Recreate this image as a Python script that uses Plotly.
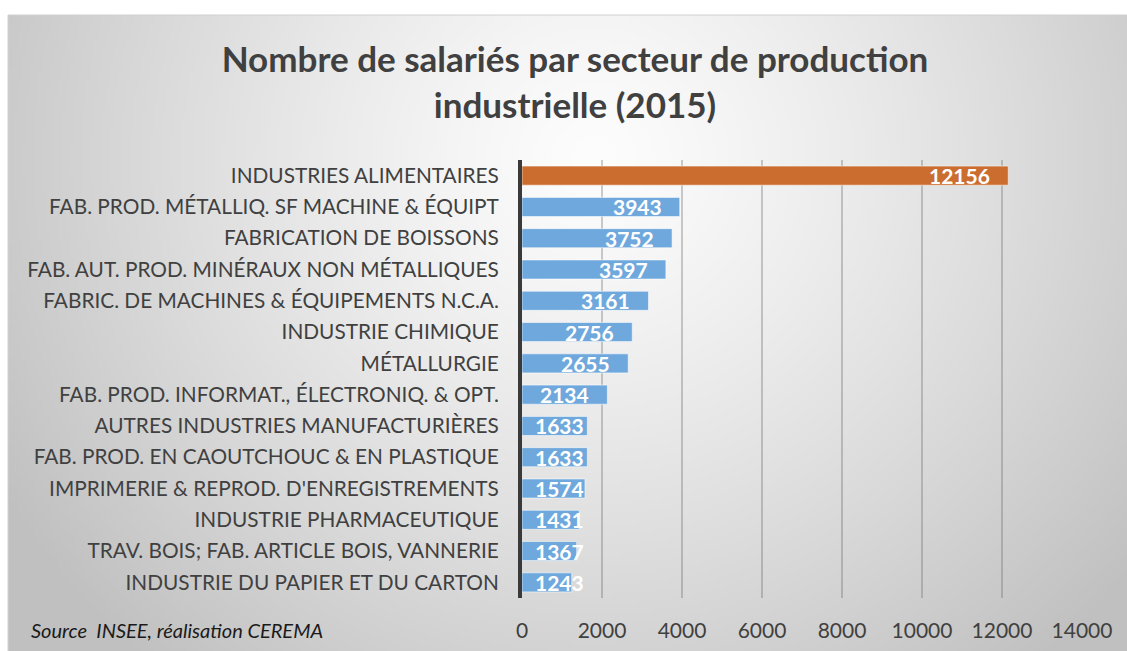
import base64
import struct
import zlib

import numpy as np
import plotly.graph_objects as go

# --- data -------------------------------------------------------------
secteurs = [
    "INDUSTRIES ALIMENTAIRES",
    "FAB. PROD. MÉTALLIQ. SF MACHINE & ÉQUIPT",
    "FABRICATION DE BOISSONS",
    "FAB. AUT. PROD. MINÉRAUX NON MÉTALLIQUES",
    "FABRIC. DE MACHINES & ÉQUIPEMENTS N.C.A.",
    "INDUSTRIE CHIMIQUE",
    "MÉTALLURGIE",
    "FAB. PROD. INFORMAT., ÉLECTRONIQ. & OPT.",
    "AUTRES INDUSTRIES MANUFACTURIÈRES",
    "FAB. PROD. EN CAOUTCHOUC & EN PLASTIQUE",
    "IMPRIMERIE & REPROD. D'ENREGISTREMENTS",
    "INDUSTRIE PHARMACEUTIQUE",
    "TRAV. BOIS; FAB. ARTICLE BOIS, VANNERIE",
    "INDUSTRIE DU PAPIER ET DU CARTON",
]
salaries = [12156, 3943, 3752, 3597, 3161, 2756, 2655, 2134, 1633, 1633, 1574, 1431, 1367, 1243]
x_ticks = [0, 2000, 4000, 6000, 8000, 10000, 12000, 14000]

titre = "Nombre de salariés par secteur de production<br>industrielle (2015)"
source = "Source  INSEE, réalisation CEREMA"

# --- styles -----------------------------------------------------------
FONT = "Lato"
TXT = "#404040"
BLUE = "#6fa8dc"
ORANGE = "#cc6d30"
colors = [ORANGE] + [BLUE] * (len(salaries) - 1)

W, H = 1127, 651
L, R, T, B = 522, 45, 160, 53
PW, PH = W - L - R, H - T - B


def radial_png(w, h):
    """Grey radial gradient, lightest near the title, as a PNG data URI."""
    yy, xx = np.mgrid[0:h, 0:w]
    cx, cy = 0.52 * w, 0.22 * h
    r = np.sqrt(((xx - cx) / (0.56 * w)) ** 2 + ((yy - cy) / (0.95 * h)) ** 2)
    r = np.clip(r, 0, 1.2)
    v = 253 - 54 * r ** 1.25
    v = np.clip(v, 192, 253).astype(np.uint8)
    raw = b"".join(b"\x00" + bytes(np.repeat(row, 3)) for row in v)

    def chunk(tag, data):
        c = struct.pack(">I", len(data)) + tag + data
        return c + struct.pack(">I", zlib.crc32(tag + data) & 0xFFFFFFFF)

    png = b"\x89PNG\r\n\x1a\n"
    png += chunk(b"IHDR", struct.pack(">IIBBBBB", w, h, 8, 2, 0, 0, 0))
    png += chunk(b"IDAT", zlib.compress(raw, 9))
    png += chunk(b"IEND", b"")
    return "data:image/png;base64," + base64.b64encode(png).decode()


# frame of the chart, in paper coordinates
fx0, fy0, fx1, fy1 = 8, 15, W + 4, H + 4
px = lambda p: (p - L) / PW
py = lambda p: 1 - (p - T) / PH

fig = go.Figure()
fig.add_trace(
    go.Bar(
        x=salaries,
        y=secteurs,
        orientation="h",
        marker=dict(color=colors, line=dict(color="rgba(255,255,255,0.55)", width=1)),
        hoverinfo="x+y",
    )
)

# value labels near the bar end (kept readable on the short bars)
label_x = np.maximum(np.array(salaries) - 400, 1610)
for lx, v, s in zip(label_x, salaries, secteurs):
    fig.add_annotation(
        x=lx, y=s, text=f"<b>{v}</b>", showarrow=False, xanchor="right",
        font=dict(family=FONT, size=21, color="white"),
    )

fig.add_annotation(
    x=px(29), y=py(630), xref="paper", yref="paper", text=f"<i>{source}</i>",
    showarrow=False, xanchor="left", yanchor="middle",
    font=dict(family=FONT, size=20, color="#1a1a1a"),
)

fig.add_layout_image(
    source=radial_png(280, 160), xref="paper", yref="paper",
    x=px(fx0), y=py(fy0), sizex=px(fx1) - px(fx0), sizey=py(fy0) - py(fy1),
    xanchor="left", yanchor="top", sizing="stretch", layer="below",
)
fig.add_shape(
    type="rect", xref="paper", yref="paper",
    x0=px(fx0), x1=px(fx1), y0=py(fy1), y1=py(fy0),
    line=dict(color="#d0d0d0", width=1), fillcolor="rgba(0,0,0,0)", layer="below",
)

fig.update_layout(
    width=W, height=H,
    margin=dict(l=L, r=R, t=T, b=B, pad=0),
    paper_bgcolor="white",
    plot_bgcolor="rgba(0,0,0,0)",
    showlegend=False,
    bargap=0.39,
    title=dict(
        text=f"<b>{titre}</b>", x=px(575), xref="paper", xanchor="center",
        y=1 - 72 / H, yanchor="middle",
        font=dict(family=FONT, size=35, color=TXT),
    ),
    font=dict(family=FONT, color=TXT),
    xaxis=dict(
        range=[0, 14000], tickvals=x_ticks, ticktext=[str(t) for t in x_ticks],
        showgrid=True, gridcolor="rgba(110,110,110,0.35)", gridwidth=2,
        zeroline=False, showline=False,
        ticks="outside", ticklen=14, tickcolor="rgba(0,0,0,0)",
        tickfont=dict(family=FONT, size=21, color=TXT),
        automargin=False, fixedrange=True,
    ),
    yaxis=dict(
        autorange="reversed", showgrid=False, zeroline=False,
        showline=True, linecolor="#3a3a3a", linewidth=4,
        ticks="outside", ticklen=15, tickcolor="rgba(0,0,0,0)",
        tickfont=dict(family=FONT, size=20.8, color=TXT),
        automargin=False, fixedrange=True,
    ),
)

fig.write_html("out.html")
